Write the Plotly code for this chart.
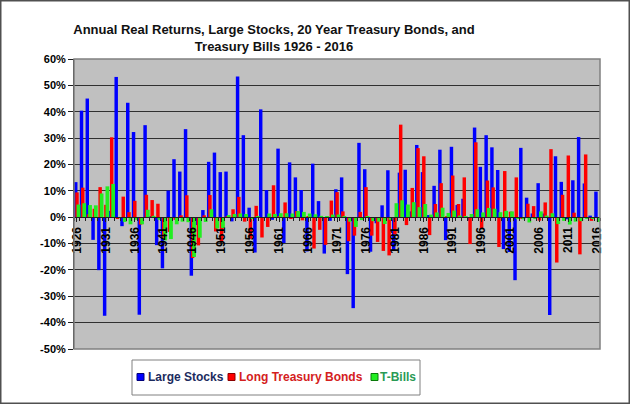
import plotly.graph_objects as go

years = list(range(1926, 2017))

large_stocks = [
    13.3, 40.4, 45.0, -8.6, -20.1, -37.4, 2.4, 53.2, -3.4, 43.4,
    32.3, -37.0, 34.9, 0.1, -10.6, -19.4, 10.1, 22.0, 17.3, 33.4,
    -22.2, -3.0, 2.7, 21.0, 24.5, 17.1, 17.3, -1.6, 53.4, 31.1,
    3.6, -13.4, 40.9, 10.3, -1.0, 26.0, -9.8, 20.8, 15.1, 10.3,
    -13.0, 20.3, 6.1, -13.8, -1.4, 10.6, 15.1, -21.6, -34.5, 28.2,
    18.2, -13.1, -2.3, 4.5, 17.8, -12.7, 16.9, 18.0, 2.2, 27.4,
    17.1, 0.8, 11.9, 25.6, -8.7, 26.7, 4.6, 7.0, -1.3, 34.0,
    19.1, 31.1, 26.5, 17.9, -12.1, -13.2, -23.9, 26.3, 7.4, 1.4,
    12.9, 1.4, -37.1, 23.1, 13.4, -0.8, 14.0, 30.4, 12.8, 0.6,
    9.7,
]

long_bonds = [
    9.4, 11.2, 1.1, 3.2, 11.4, 4.7, 30.3, -0.6, 7.8, 1.9,
    6.2, -2.8, 8.5, 6.5, 5.1, -8.0, -5.6, -1.0, 0.7, 8.3,
    -15.5, -10.7, 0.7, 8.4, -5.4, -9.3, 0.3, 3.0, 7.7, -1.7,
    -8.2, 4.3, -7.7, -3.7, 12.1, 0.3, 5.6, -0.4, 2.3, -1.2,
    0.3, -11.9, -4.8, -10.5, 6.3, 9.5, 2.2, -9.1, -7.0, 2.0,
    11.4, -7.0, -9.4, -12.8, -14.5, -6.5, 35.1, -3.0, 11.1, 26.2,
    23.1, -6.8, 5.0, 12.9, 0.1, 15.8, 5.0, 15.1, -10.2, 28.4,
    -4.1, 13.9, 11.3, -11.3, 17.5, 2.1, 15.1, -0.4, 5.1, 4.2,
    -1.3, 5.6, 25.8, -17.2, 8.5, 23.4, 1.7, -14.1, 23.8, -1.4,
    -0.3,
]

t_bills = [
    4.8, 5.3, 4.6, 4.5, 9.0, 11.7, 12.6, -0.2, -1.8, -2.7,
    -1.0, -2.7, 2.8, 0.5, -1.0, -8.8, -8.3, -2.7, -1.7, -1.9,
    -15.1, -7.8, -1.8, 3.0, -4.3, -4.1, 0.8, 1.2, 1.4, 1.2,
    -0.4, 0.1, -0.2, 1.4, 1.2, 1.5, 1.5, 1.4, 2.3, 2.0,
    1.4, 1.1, 0.5, 0.4, 1.0, 1.0, 0.4, -1.7, -3.7, -1.1,
    0.3, -1.5, -1.7, -2.6, -1.0, 5.3, 6.4, 4.8, 5.7, 3.8,
    5.0, 1.0, 1.8, 3.6, 1.6, 2.5, 0.6, 0.1, 1.2, 3.0,
    1.8, 3.5, 3.2, 1.9, 2.4, 2.2, -0.7, -0.8, -2.0, -0.4,
    2.2, 0.6, 1.5, -2.6, -1.4, -2.8, -1.7, -1.5, -0.7, -0.7,
    -1.8,
]

series_names = ["Large Stocks", "Long Treasury Bonds", "T-Bills"]
label_years = list(range(1926, 2017, 5))
y_ticks = list(range(-50, 61, 10))

FONT = "Liberation Sans, Arial, sans-serif"
W, H = 630, 404
ML, MR, MT, MB = 74, 30, 59, 55
PW, PH = W - ML - MR, H - MT - MB

bar_colors = ["#0000ff", "#ff0000", "#22ee22"]
edge_colors = ["#00007a", "#8a0000", "#0a7a0a"]
text_colors = ["#1c2b5e", "#d42020", "#2a9a55"]
offsets = [-0.5, -0.28, -0.05]
widths = [0.6, 0.6, 0.65]

fig = go.Figure()
for name, vals, col, off, wd in zip(series_names, [large_stocks, long_bonds, t_bills],
                                    bar_colors, offsets, widths):
    fig.add_trace(go.Bar(
        x=years, y=vals, offset=off, width=wd, name=name,
        marker=dict(color=col, line=dict(width=0)),
        showlegend=False,
    ))


def px_x(p):
    return (p - ML) / PW


def px_y(p):
    return (H - MB - p) / PH


shapes = [
    dict(type="rect", xref="paper", yref="paper", x0=0, x1=1, y0=0, y1=1,
         line=dict(color="#808080", width=1.5), fillcolor="rgba(0,0,0,0)", layer="above"),
    dict(type="rect", xref="paper", yref="paper",
         x0=px_x(0), x1=px_x(W), y0=px_y(H), y1=px_y(0),
         line=dict(color="#505050", width=3), fillcolor="rgba(0,0,0,0)", layer="above"),
    dict(type="rect", xref="paper", yref="paper",
         x0=px_x(132), x1=px_x(420), y0=px_y(395), y1=px_y(360),
         line=dict(color="#808080", width=1), fillcolor="white", layer="above"),
]
annotations = []
sq_x = [137, 228, 371]
tx_x = [146, 237, 378]
leg_y = 377
for i in range(3):
    shapes.append(dict(type="rect", xref="paper", yref="paper",
                       x0=px_x(sq_x[i]), x1=px_x(sq_x[i] + 7),
                       y0=px_y(leg_y + 3.5), y1=px_y(leg_y - 3.5),
                       line=dict(color=edge_colors[i], width=1),
                       fillcolor=bar_colors[i], layer="above"))
    annotations.append(dict(
        xref="paper", yref="paper", x=px_x(tx_x[i]), y=px_y(leg_y),
        xanchor="left", yanchor="middle", showarrow=False,
        text=series_names[i],
        font=dict(family=FONT, size=12, color=text_colors[i], weight="bold"),
    ))

fig.update_layout(
    width=W, height=H,
    margin=dict(l=ML, r=MR, t=MT, b=MB),
    paper_bgcolor="white",
    plot_bgcolor="#c0c0c0",
    barmode="overlay",
    font=dict(family=FONT, color="#000000"),
    title=dict(
        text="Annual Real Returns, Large Stocks, 20 Year Treasury Bonds, and<br>Treasury Bills 1926 - 2016",
        x=274 / W, xanchor="center", xref="container",
        y=1 - 34 / H, yanchor="middle", yref="container",
        font=dict(family=FONT, size=13, color="#111111", weight="bold"),
    ),
    xaxis=dict(
        range=[1925.5, 2016.5],
        anchor="free", position=50 / 110,
        tickmode="array", tickvals=label_years,
        ticktext=[str(y) for y in label_years],
        tickangle=-90,
        tickfont=dict(family=FONT, size=12, color="#000000", weight="bold"),
        showgrid=False, zeroline=False,
        showline=True, linecolor="#202020", linewidth=1,
        ticks="outside", ticklen=4, tickcolor="#202020",
        minor=dict(dtick=1, tick0=1925.5, ticks="outside", ticklen=3, tickcolor="#202020"),
    ),
    yaxis=dict(
        range=[-50, 60],
        tickmode="array", tickvals=y_ticks,
        ticktext=["%d%%" % v for v in y_ticks],
        tickfont=dict(family=FONT, size=11, color="#000000", weight="bold"),
        showgrid=True, gridcolor="#303030", gridwidth=1,
        zeroline=True, zerolinecolor="#202020", zerolinewidth=1,
        showline=True, linecolor="#202020", linewidth=1,
        ticks="outside", ticklen=5, tickcolor="#202020",
    ),
    showlegend=False,
    shapes=shapes,
    annotations=annotations,
)

fig.write_html("out.html")
